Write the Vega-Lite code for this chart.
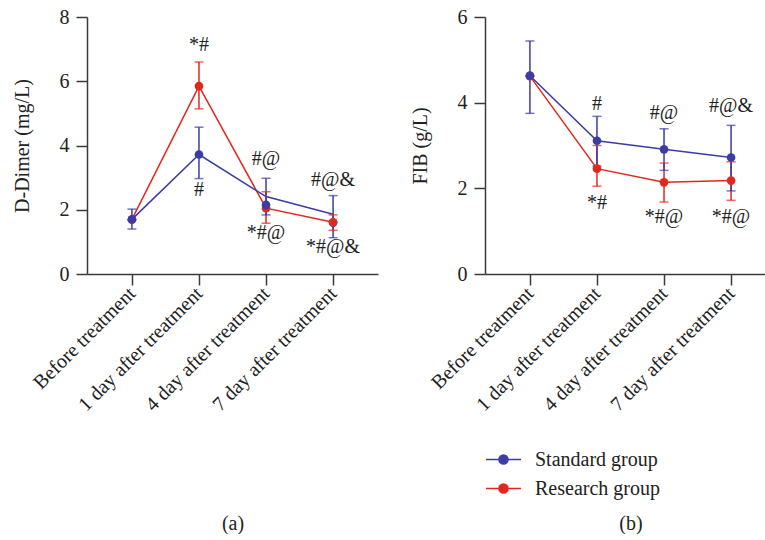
{
  "$schema": "https://vega.github.io/schema/vega-lite/v6.json",
  "background": "white",
  "padding": {"left": 12, "top": 7, "right": 0, "bottom": 0},
  "bounds": "flush",
  "spacing": 107,
  "datasets": {
    "stats": [
      {"panel": "a", "time": "Before treatment", "group": "Research group", "mean": 1.69, "lo": 1.69, "hi": 1.69, "line": 1.70},
      {"panel": "a", "time": "1 day after treatment", "group": "Research group", "mean": 5.85, "lo": 5.14, "hi": 6.60, "line": 5.85},
      {"panel": "a", "time": "4 day after treatment", "group": "Research group", "mean": 2.05, "lo": 1.58, "hi": 2.56, "line": 2.05},
      {"panel": "a", "time": "7 day after treatment", "group": "Research group", "mean": 1.61, "lo": 1.36, "hi": 1.84, "line": 1.61},
      {"panel": "a", "time": "Before treatment", "group": "Standard group", "mean": 1.70, "lo": 1.40, "hi": 2.02, "line": 1.70},
      {"panel": "a", "time": "1 day after treatment", "group": "Standard group", "mean": 3.72, "lo": 2.97, "hi": 4.57, "line": 3.72},
      {"panel": "a", "time": "4 day after treatment", "group": "Standard group", "mean": 2.15, "lo": 1.84, "hi": 2.98, "line": 2.41},
      {"panel": "a", "time": "7 day after treatment", "group": "Standard group", "mean": 1.60, "lo": 1.13, "hi": 2.44, "line": 1.86},
      {"panel": "b", "time": "Before treatment", "group": "Research group", "mean": 4.62, "lo": 4.62, "hi": 4.62, "line": 4.62},
      {"panel": "b", "time": "1 day after treatment", "group": "Research group", "mean": 2.46, "lo": 2.05, "hi": 3.00, "line": 2.46},
      {"panel": "b", "time": "4 day after treatment", "group": "Research group", "mean": 2.14, "lo": 1.68, "hi": 2.59, "line": 2.14},
      {"panel": "b", "time": "7 day after treatment", "group": "Research group", "mean": 2.18, "lo": 1.72, "hi": 2.62, "line": 2.18},
      {"panel": "b", "time": "Before treatment", "group": "Standard group", "mean": 4.63, "lo": 3.75, "hi": 5.44, "line": 4.63},
      {"panel": "b", "time": "1 day after treatment", "group": "Standard group", "mean": 3.11, "lo": 2.52, "hi": 3.68, "line": 3.11},
      {"panel": "b", "time": "4 day after treatment", "group": "Standard group", "mean": 2.91, "lo": 2.42, "hi": 3.39, "line": 2.91},
      {"panel": "b", "time": "7 day after treatment", "group": "Standard group", "mean": 2.72, "lo": 1.94, "hi": 3.47, "line": 2.72}
    ],
    "notes": [
      {"panel": "a", "time": "1 day after treatment", "label": "*#", "y": 7.13},
      {"panel": "a", "time": "1 day after treatment", "label": "#", "y": 2.6},
      {"panel": "a", "time": "4 day after treatment", "label": "#@", "y": 3.58},
      {"panel": "a", "time": "4 day after treatment", "label": "*#@", "y": 1.27},
      {"panel": "a", "time": "7 day after treatment", "label": "#@&", "y": 2.93},
      {"panel": "a", "time": "7 day after treatment", "label": "*#@&", "y": 0.85},
      {"panel": "b", "time": "1 day after treatment", "label": "#", "y": 3.96},
      {"panel": "b", "time": "1 day after treatment", "label": "*#", "y": 1.65},
      {"panel": "b", "time": "4 day after treatment", "label": "#@", "y": 3.75},
      {"panel": "b", "time": "4 day after treatment", "label": "*#@", "y": 1.34},
      {"panel": "b", "time": "7 day after treatment", "label": "#@&", "y": 3.92},
      {"panel": "b", "time": "7 day after treatment", "label": "*#@", "y": 1.34}
    ]
  },
  "config": {
    "view": {"stroke": null},
    "font": "Liberation Serif",
    "axis": {
      "labelFont": "Liberation Serif",
      "titleFont": "Liberation Serif",
      "labelFontSize": 20,
      "titleFontSize": 20,
      "titleFontWeight": "normal",
      "labelColor": "#222222",
      "titleColor": "#222222",
      "domainColor": "#3a3a3a",
      "tickColor": "#3a3a3a",
      "domainWidth": 1.5,
      "tickWidth": 1.5,
      "tickSize": 11,
      "grid": false
    },
    "legend": {
      "labelFont": "Liberation Serif",
      "labelFontSize": 20,
      "labelColor": "#222222"
    }
  },
  "hconcat": [
    {
      "width": 291,
      "height": 257,
      "data": {"name": "stats"},
      "transform": [{"filter": "datum.panel == 'a'"}],
      "encoding": {
        "x": {
          "field": "time",
          "type": "ordinal",
          "sort": ["Before treatment", "1 day after treatment", "4 day after treatment", "7 day after treatment"],
          "scale": {"type": "point", "padding": 0.67},
          "axis": {"title": "(a)", "labelAngle": -45, "labelAlign": "right", "labelBaseline": "middle", "labelPadding": 5, "labelLimit": 0, "titlePadding": 99}
        }
      },
      "layer": [
        {
          "mark": {"type": "line", "strokeWidth": 1.5},
          "encoding": {
            "y": {"field": "line", "type": "quantitative", "scale": {"domain": [0, 8]}, "axis": {"title": "D-Dimer (mg/L)", "values": [0, 2, 4, 6, 8], "titlePadding": 27, "labelPadding": 7}},
            "color": {"field": "group", "type": "nominal", "scale": {"domain": ["Standard group", "Research group"], "range": ["#3c3ca6", "#e2281d"]},
              "legend": {"orient": "none", "legendX": 398, "legendY": 424, "title": null, "symbolType": "M-1,0L1,0M-0.26,0A0.26,0.26,0,1,1,0.26,0A0.26,0.26,0,1,1,-0.26,0Z", "symbolSize": 1225, "symbolStrokeWidth": 1.5, "labelOffset": 13, "rowPadding": -9,
                "encode": {"symbols": {"update": {"fill": {"scale": "color", "field": "value"}, "stroke": {"scale": "color", "field": "value"}, "opacity": {"value": 1}}}}}},
            "detail": {"field": "group"}
          }
        },
        {
          "mark": {"type": "rule", "strokeWidth": 1.5},
          "encoding": {"y": {"field": "lo", "type": "quantitative"}, "y2": {"field": "hi"}, "color": {"field": "group", "type": "nominal"}}
        },
        {
          "mark": {"type": "tick", "size": 9, "thickness": 1.5},
          "encoding": {"y": {"field": "lo", "type": "quantitative"}, "color": {"field": "group", "type": "nominal"}}
        },
        {
          "mark": {"type": "tick", "size": 9, "thickness": 1.5},
          "encoding": {"y": {"field": "hi", "type": "quantitative"}, "color": {"field": "group", "type": "nominal"}}
        },
        {
          "mark": {"type": "point", "filled": true, "size": 75, "opacity": 1},
          "encoding": {"y": {"field": "mean", "type": "quantitative"}, "color": {"field": "group", "type": "nominal"}, "order": {"field": "mean", "type": "quantitative"}}
        },
        {
          "data": {"name": "notes"},
          "transform": [{"filter": "datum.panel == 'a'"}],
          "mark": {"type": "text", "font": "Liberation Serif", "fontSize": 20, "color": "#222222", "baseline": "middle", "align": "center"},
          "encoding": {"y": {"field": "y", "type": "quantitative"}, "text": {"field": "label"}}
        }
      ]
    },
    {
      "width": 291,
      "height": 257,
      "data": {"name": "stats"},
      "transform": [{"filter": "datum.panel == 'b'"}],
      "encoding": {
        "x": {
          "field": "time",
          "type": "ordinal",
          "sort": ["Before treatment", "1 day after treatment", "4 day after treatment", "7 day after treatment"],
          "scale": {"type": "point", "padding": 0.67},
          "axis": {"title": "(b)", "labelAngle": -45, "labelAlign": "right", "labelBaseline": "middle", "labelPadding": 5, "labelLimit": 0, "titlePadding": 99}
        }
      },
      "layer": [
        {
          "mark": {"type": "line", "strokeWidth": 1.5},
          "encoding": {
            "y": {"field": "line", "type": "quantitative", "scale": {"domain": [0, 6]}, "axis": {"title": "FIB (g/L)", "values": [0, 2, 4, 6], "titlePadding": 27, "labelPadding": 7}},
            "color": {"field": "group", "type": "nominal"},
            "detail": {"field": "group"}
          }
        },
        {
          "mark": {"type": "rule", "strokeWidth": 1.5},
          "encoding": {"y": {"field": "lo", "type": "quantitative"}, "y2": {"field": "hi"}, "color": {"field": "group", "type": "nominal"}}
        },
        {
          "mark": {"type": "tick", "size": 9, "thickness": 1.5},
          "encoding": {"y": {"field": "lo", "type": "quantitative"}, "color": {"field": "group", "type": "nominal"}}
        },
        {
          "mark": {"type": "tick", "size": 9, "thickness": 1.5},
          "encoding": {"y": {"field": "hi", "type": "quantitative"}, "color": {"field": "group", "type": "nominal"}}
        },
        {
          "mark": {"type": "point", "filled": true, "size": 75, "opacity": 1},
          "encoding": {"y": {"field": "mean", "type": "quantitative"}, "color": {"field": "group", "type": "nominal"}, "order": {"field": "mean", "type": "quantitative"}}
        },
        {
          "data": {"name": "notes"},
          "transform": [{"filter": "datum.panel == 'b'"}],
          "mark": {"type": "text", "font": "Liberation Serif", "fontSize": 20, "color": "#222222", "baseline": "middle", "align": "center"},
          "encoding": {"y": {"field": "y", "type": "quantitative"}, "text": {"field": "label"}}
        }
      ]
    }
  ],
  "resolve": {"scale": {"color": "shared"}}
}
